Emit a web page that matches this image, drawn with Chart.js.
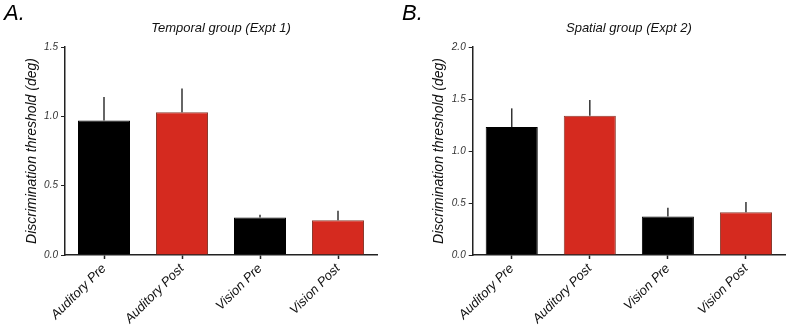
<!DOCTYPE html>
<html>
<head>
<meta charset="utf-8">
<script src="https://cdn.jsdelivr.net/npm/chart.js@4.4.1/dist/chart.umd.min.js"></script>
<style>
  body { margin: 0; background: #fff; width: 787px; height: 326px; overflow: hidden; position: relative; font-family: "Liberation Sans", Arial, sans-serif; }
  .panel { position: absolute; top: 0; height: 326px; }
  .letter { position: absolute; top: 0; font-size: 22px; font-style: italic; color: #000; }
</style>
</head>
<body>
<div class="panel" style="left:0;width:400px;"><canvas id="chartA"></canvas></div>
<div class="panel" style="left:400px;width:387px;"><canvas id="chartB"></canvas></div>
<div class="letter" style="left:4px;">A.</div>
<div class="letter" style="left:402px;">B.</div>
<script>
// categories
const categories = ["Auditory Pre", "Auditory Post", "Vision Pre", "Vision Post"];
const barColors = ["#000000", "#d52a1f", "#000000", "#d52a1f"];
const barBorders = ["#000000", "#8a3b2f", "#000000", "#8a3b2f"];

// Expt 1 - temporal group
const meansA = [0.97, 1.03, 0.27, 0.25];
const errorsA = [0.17, 0.17, 0.02, 0.07];

// Expt 2 - spatial group
const meansB = [1.23, 1.34, 0.37, 0.41];
const errorsB = [0.18, 0.15, 0.085, 0.10];

const fontFamily = '"Liberation Sans", Arial, sans-serif';

// upward error bars (SEM)
const errorBars = {
  id: 'errorBars',
  afterDatasetsDraw(chart, args, opts) {
    const ctx = chart.ctx;
    const y = chart.scales.y;
    const ds = chart.data.datasets[0];
    const meta = chart.getDatasetMeta(0);
    ctx.save();
    ctx.strokeStyle = "#333";
    ctx.lineWidth = 1.5;
    meta.data.forEach(function(bar, i) {
      const top = y.getPixelForValue(ds.data[i] + opts.errors[i]);
      ctx.beginPath();
      ctx.moveTo(bar.x, bar.y);
      ctx.lineTo(bar.x, top);
      ctx.stroke();
    });
    ctx.restore();
  }
};

function makeChart(id, title, means, errors, yMax, yWidth, titleOffset, padRight) {
  const ctx = document.getElementById(id).getContext('2d');
  return new Chart(ctx, {
    type: 'bar',
    data: {
      labels: categories,
      datasets: [{
        data: means,
        backgroundColor: barColors,
        borderColor: barBorders,
        borderWidth: 1,
        categoryPercentage: 1,
        barPercentage: 0.667
      }]
    },
    options: {
      responsive: true,
      maintainAspectRatio: false,
      animation: false,
      layout: {
        padding: { left: 0, right: padRight, top: 0, bottom: 0 }
      },
      scales: {
        x: {
          afterFit: function(scale) { scale.height = 71; },
          grid: {
            display: true,
            offset: false,
            drawOnChartArea: false,
            tickLength: 4,
            tickColor: "#222",
            tickWidth: 1.5
          },
          border: { color: "#222", width: 1.5 },
          ticks: {
            minRotation: 45,
            maxRotation: 45,
            padding: 2,
            color: "#111",
            font: { family: fontFamily, size: 13, style: 'italic' }
          }
        },
        y: {
          min: 0,
          max: yMax,
          afterFit: function(scale) { scale.width = yWidth; },
          grid: {
            display: true,
            drawOnChartArea: false,
            tickLength: 4,
            tickColor: "#222",
            tickWidth: 1
          },
          border: { color: "#222", width: 1.5 },
          ticks: {
            stepSize: 0.5,
            padding: 3,
            color: "#333",
            font: { family: fontFamily, size: 10, style: 'italic' },
            callback: function(v) { return v.toFixed(1); }
          },
          title: {
            display: true,
            text: "Discrimination threshold (deg)",
            color: "#111",
            padding: { top: titleOffset, bottom: 0 },
            font: { family: fontFamily, size: 14, style: 'italic' }
          }
        }
      },
      plugins: {
        legend: { display: false },
        tooltip: { enabled: false },
        title: {
          display: true,
          text: title,
          fullSize: false,
          color: "#111",
          padding: { top: 20.7, bottom: 10.7 },
          font: { family: fontFamily, size: 13, style: 'italic', weight: 'normal' }
        },
        errorBars: { errors: errors }
      }
    },
    plugins: [errorBars]
  });
}

makeChart('chartA', "Temporal group (Expt 1)", meansA, errorsA, 1.5, 65, 24, 23);
makeChart('chartB', "Spatial group (Expt 2)", meansB, errorsB, 2.0, 72.7, 31, 2);
</script>
</body>
</html>
